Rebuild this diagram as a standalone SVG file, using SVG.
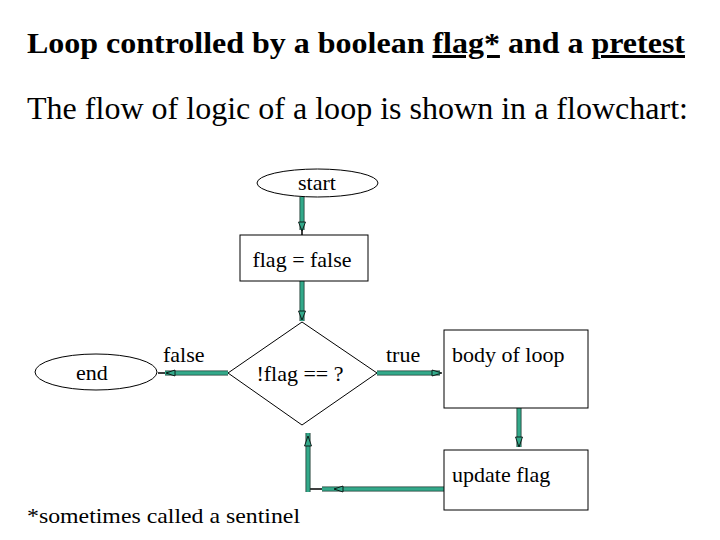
<svg xmlns="http://www.w3.org/2000/svg" width="720" height="540" viewBox="0 0 720 540">
<defs>
<style>
.t{font-family:"Liberation Serif","Times New Roman","DejaVu Serif",serif;fill:#000}
.lbl{font-size:22px}
.shape{fill:#fff;stroke:#000;stroke-width:1}
.outer{fill:none;stroke:#1a3a30;stroke-width:5}
.inner{fill:none;stroke:#33A98A;stroke-width:3.4}
.thin{fill:none;stroke:#000;stroke-width:1.5}
.ah{fill:#33A98A;stroke:#000;stroke-width:0.8}
</style>
</defs>
<rect width="720" height="540" fill="#fff"/>
<g font-family="Liberation Serif, Times New Roman, DejaVu Serif, serif">
<text class="t" x="27" y="53" font-size="30" font-weight="bold" textLength="658" lengthAdjust="spacingAndGlyphs">Loop controlled by a boolean <tspan text-decoration="underline">flag*</tspan> and a <tspan text-decoration="underline">pretest</tspan></text>
<text class="t" x="27" y="119" font-size="31" textLength="661" lengthAdjust="spacingAndGlyphs">The flow of logic of a loop is shown in a flowchart:</text>
<text class="t" x="27" y="523" font-size="22" textLength="273" lengthAdjust="spacingAndGlyphs">*sometimes called a sentinel</text>
</g>
<g id="connectors">
<path class="thin" d="M302,230 V235 M165,373 H158 M322,489 H309"/>
<path class="outer" d="M302,197 V230 M302,281 V321 M228,373 H165 M377,373 H440 M519,408 V447 M444,489 H322 M308,492 V433"/>
<path class="inner" d="M302,197 V230 M302,281 V321 M228,373 H165 M377,373 H440 M519,408 V447 M444,489 H322 M308,492 V433"/>
<polygon class="ah" points="298.5,222 305.5,222 302,231"/>
<polygon class="ah" points="298.5,311 305.5,311 302,320"/>
<polygon class="ah" points="175,370 175,376 166,373"/>
<polygon class="ah" points="432,370 432,376 442,373"/>
<polygon class="ah" points="515.5,437 522.5,437 519,447"/>
<polygon class="ah" points="304.5,446 311.5,446 308,436"/>
<polygon class="ah" points="343,486 343,492 334,489"/>
</g>
<g id="start">
<ellipse class="shape" cx="317.5" cy="183" rx="60.5" ry="14"/>
<text class="t lbl" x="317" y="190" text-anchor="middle">start</text>
</g>
<g id="init">
<rect class="shape" x="240" y="235" width="128" height="46"/>
<text class="t lbl" x="302" y="267" text-anchor="middle">flag = false</text>
</g>
<g id="test">
<polygon class="shape" points="302,322 377,373 302,425 228,373"/>
<text class="t lbl" x="300" y="381" text-anchor="middle">!flag == ?</text>
</g>
<g id="end">
<ellipse class="shape" cx="96" cy="372" rx="61" ry="18"/>
<text class="t lbl" x="92" y="380" text-anchor="middle">end</text>
</g>
<g id="labels">
<text class="t lbl" x="163" y="362">false</text>
<text class="t lbl" x="386" y="362">true</text>
</g>
<g id="body">
<rect class="shape" x="444" y="330" width="144" height="78"/>
<text class="t lbl" x="452" y="362">body of loop</text>
</g>
<g id="update">
<rect class="shape" x="444" y="450" width="144" height="60"/>
<text class="t lbl" x="452" y="482">update flag</text>
</g>
</svg>
